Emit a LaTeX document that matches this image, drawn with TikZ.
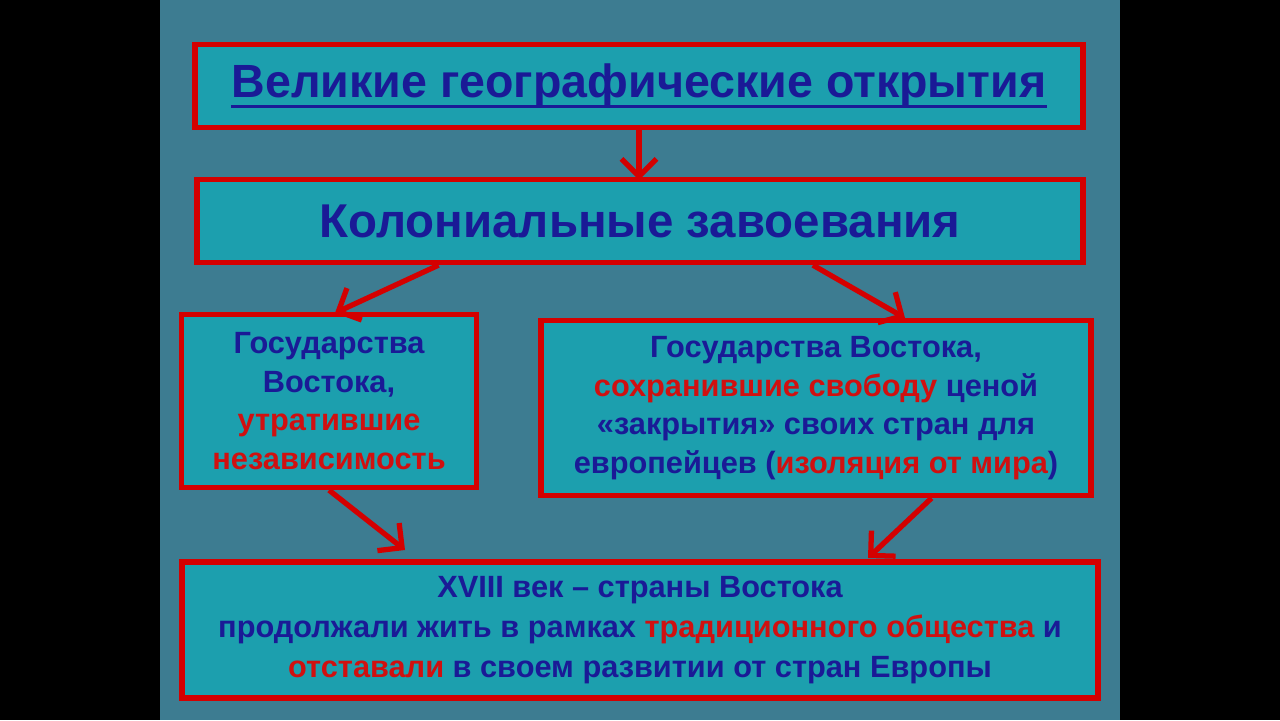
\documentclass[tikz,border=0pt]{standalone}
\usepackage{fontspec}
\setmainfont{Liberation Sans}
\usetikzlibrary{arrows.meta,calc}
\definecolor{bgteal}{HTML}{3D7C91}
\definecolor{boxfill}{HTML}{1C9FAE}
\definecolor{boxred}{HTML}{D40000}
\definecolor{txtblue}{HTML}{1A1A96}
\definecolor{txtred}{HTML}{D01010}
\newcommand{\rd}[1]{\textcolor{txtred}{#1}}
\newcommand{\uline}[1]{\tikz[baseline=(u.base)]{\node[inner sep=0pt,minimum width=0pt,minimum height=0pt,draw=none,fill=none,text=txtblue] (u) {#1}; \draw[txtblue,line width=2pt] ([yshift=-5pt]u.base west) -- ([yshift=-5pt]u.base east);}}
\tikzset{
  box/.style={draw=boxred, line width=3pt, fill=boxfill, text=txtblue, font=\bfseries, align=center, inner sep=0pt},
  link/.style={draw=boxred, line width=3pt, -{Straight Barb[length=10pt,width=20pt]}}
}
\begin{document}
\begin{tikzpicture}[x=0.02cm,y=-0.02cm]
  \fill[black] (0,0) rectangle (1280,720);
  \fill[bgteal] (160,0) rectangle (1120,720);
  \useasboundingbox (0,0) rectangle (1280,720);
  % boxes
  \node[box, minimum width=888*0.02cm, minimum height=83*0.02cm, font=\bfseries\fontsize{26.5}{31}\selectfont] (geo) at (639,86) {\uline{Великие географические открытия}};
  \node[box, minimum width=886*0.02cm, minimum height=83*0.02cm, font=\bfseries\fontsize{27}{31}\selectfont] (kol) at (640,221) {Колониальные завоевания};
  \node[box, minimum width=295*0.02cm, minimum height=173*0.02cm, font=\bfseries\fontsize{17.5}{22}\selectfont] (lost) at (329,401) {Государства\\Востока,\\\rd{утратившие}\\\rd{независимость}};
  \node[box, minimum width=550*0.02cm, minimum height=175*0.02cm, font=\bfseries\fontsize{17.5}{22}\selectfont] (kept) at (816,408) {Государства Востока,\\\rd{сохранившие свободу} ценой\\«закрытия» своих стран для\\европейцев (\rd{изоляция от мира})};
  \node[box, minimum width=916*0.02cm, minimum height=136*0.02cm, font=\bfseries\fontsize{17.5}{22.7}\selectfont] (vek) at (640,630) {XVIII век – страны Востока\\продолжали жить в рамках \rd{традиционного общества} и\\\rd{отставали} в своем развитии от стран Европы};
  % arrows
  \draw[link] (geo.south) -- ++(0,50);
  \draw[link] ($(kol.south west)!0.274!(kol.south east)$) -- (335,313);
  \draw[link] ($(kol.south west)!0.694!(kol.south east)$) -- (905,318);
  \draw[link] ($(lost.south west)!0.5!(lost.south east)$) -- (405,550);
  \draw[link] ($(kept.south west)!0.708!(kept.south east)$) -- (868,558);
\end{tikzpicture}
\end{document}
